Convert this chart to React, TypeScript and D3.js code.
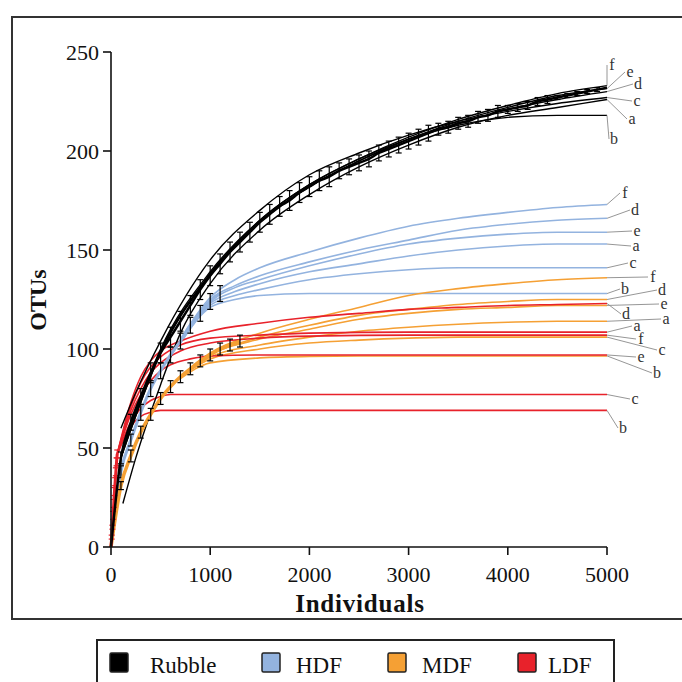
import React from 'react';
import * as d3 from 'd3';

const X_TICKS = [0, 1000, 2000, 3000, 4000, 5000];
const Y_TICKS = [0, 50, 100, 150, 200, 250];
const GROUPS = ['Rubble', 'HDF', 'MDF', 'LDF'];
const GROUP_COLORS = ['#000000', '#93b3df', '#f5a034', '#e8222b'];

// group mean rarefaction curves (y values at regular sample steps) and their SD
const RUBBLE_STEP = 100;
const RUBBLE_MEAN = [0, 45, 63, 76, 88, 98, 106, 114, 122, 130, 137, 143, 149, 154, 159, 164, 168, 172, 175, 179, 182, 185, 187, 190, 192, 194, 196, 199, 201, 203, 205, 207, 209, 211, 212, 214, 215, 217, 218, 220, 221, 222, 223, 225, 226, 227, 228, 229, 230, 231, 232];
const RUBBLE_SD = [0, 3, 4, 4, 5, 5, 5, 5, 5, 5, 5, 5, 5, 5, 5, 5, 5, 5, 5, 5, 5, 5, 5, 4, 4, 4, 4, 4, 4, 4, 4, 4, 4, 3, 3, 3, 3, 3, 3, 3, 2, 2, 2, 2, 2, 1, 1, 1, 1, 1, 0];
const HDF_STEP = 100;
const HDF_MEAN = [0, 38, 54, 68, 80, 89, 97, 104, 112, 118, 124, 128];
const HDF_SD = [0, 3, 3, 4, 4, 4, 4, 4, 4, 4, 4, 4];
const MDF_STEP = 100;
const MDF_MEAN = [0, 31, 46, 58, 67, 75, 81, 86, 90, 94, 97, 100, 102, 104];
const MDF_SD = [0, 2, 3, 3, 3, 3, 3, 3, 3, 3, 3, 3, 3, 3];
const LDF_STEP = 7;
const LDF_MEAN = [0, 5, 10, 16, 22, 28, 33, 38, 43, 47];
const LDF_SD = [0, 1, 1, 2, 2, 2, 2, 2, 2, 2];

type Pt = [number, number];
type Curve = { id: string; pts: Pt[] };

const RUBBLE_LINES: Curve[] = [
  { id: 'f', pts: [[100, 47], [500, 100], [1000, 139], [1500, 165], [2000, 183], [2500, 196], [3000, 207], [3500, 216], [4000, 223], [4500, 229], [5000, 233]] },
  { id: 'e', pts: [[100, 46], [500, 99], [1000, 138], [1500, 164], [2000, 182], [2500, 195], [3000, 206], [3500, 215], [4000, 222], [4500, 228], [5000, 231.5]] },
  { id: 'd', pts: [[100, 45], [500, 98], [1000, 137], [1500, 164], [2000, 182], [2500, 195], [3000, 206], [3500, 214], [4000, 221], [4500, 226], [5000, 230]] },
  { id: 'c', pts: [[100, 60], [250, 78], [500, 104], [1000, 145], [1500, 170], [2000, 188], [2500, 199], [3000, 208], [3500, 215], [4000, 220], [4500, 224], [5000, 227]] },
  { id: 'a', pts: [[120, 22], [250, 45], [500, 82], [700, 108], [1000, 133], [1500, 160], [2000, 178], [2500, 192], [3000, 203], [3500, 212], [4000, 218], [4500, 222], [5000, 226]] },
  { id: 'b', pts: [[100, 45], [500, 98], [1000, 138], [1500, 165], [2000, 183], [2500, 196], [3000, 206], [3500, 213], [4000, 217], [4500, 218], [5000, 218]] },
];

const HDF_LINES: Curve[] = [
  { id: 'f', pts: [[700, 105], [1000, 126], [1250, 135], [1500, 141], [2000, 149], [2500, 156], [3000, 162], [3500, 166], [4000, 169], [4500, 171.5], [5000, 173]] },
  { id: 'd', pts: [[700, 104], [1000, 125], [1250, 132], [1500, 137], [2000, 144], [2500, 150], [3000, 155], [3500, 160], [4000, 163], [4500, 165], [5000, 166]] },
  { id: 'e', pts: [[700, 104], [1000, 124], [1250, 131], [1500, 135], [2000, 142], [2500, 148], [3000, 153], [3500, 156], [4000, 158], [4500, 159], [5000, 159]] },
  { id: 'a', pts: [[700, 104], [1000, 123], [1250, 129], [1500, 133], [2000, 139], [2500, 143], [3000, 147], [3500, 150], [4000, 152], [4500, 153], [5000, 153]] },
  { id: 'c', pts: [[700, 103], [1000, 122], [1250, 127], [1500, 130], [2000, 135], [2500, 138], [3000, 140], [3500, 141], [4000, 141], [5000, 141]] },
  { id: 'b', pts: [[700, 103], [1000, 121], [1250, 125], [1500, 127], [2000, 128], [5000, 128]] },
];

const MDF_LINES: Curve[] = [
  { id: 'f', pts: [[700, 86], [1000, 98], [1500, 108], [2000, 115], [2500, 121], [3000, 127], [3500, 130.5], [4000, 133], [4500, 135], [5000, 136]] },
  { id: 'd', pts: [[700, 86], [1000, 97], [1500, 106], [2000, 112], [2500, 117], [3000, 120], [3500, 122.5], [4000, 124], [4500, 125], [5000, 125]] },
  { id: 'e', pts: [[700, 86], [1000, 97], [1500, 105], [2000, 110], [2500, 115], [3000, 118], [3500, 120], [4000, 121], [4500, 122], [5000, 122]] },
  { id: 'a', pts: [[700, 86], [1000, 96], [1500, 102], [2000, 106], [2500, 109], [3000, 111], [3500, 112.5], [4000, 113.5], [4500, 114], [5000, 114]] },
  { id: 'c', pts: [[700, 86], [1000, 95], [1500, 100], [2000, 103], [2500, 104.5], [3000, 105.5], [3500, 106], [5000, 106]] },
  { id: 'b', pts: [[700, 85], [1000, 93], [1500, 95.5], [2000, 96.3], [2500, 96.5], [5000, 96.5]] },
];

const LDF_LINES: Curve[] = [
  { id: 'd', pts: [[63, 47], [200, 73], [300, 86], [400, 94], [500, 99], [700, 104], [1000, 109], [1500, 113], [2000, 116], [2500, 118], [3000, 120], [3500, 121], [4000, 122], [4500, 122.5], [5000, 123]] },
  { id: 'a', pts: [[63, 47], [200, 71], [300, 83], [400, 91], [500, 96], [700, 102], [1000, 105.5], [1500, 107], [2000, 108], [3000, 108.5], [5000, 108.5]] },
  { id: 'f', pts: [[63, 47], [200, 69], [300, 80], [400, 88], [500, 93], [700, 99], [1000, 103], [1500, 105.5], [2000, 106.5], [3000, 107], [5000, 107]] },
  { id: 'e', pts: [[63, 47], [200, 67], [300, 77], [400, 84], [500, 89], [600, 92], [800, 95], [1000, 96.5], [1500, 97], [5000, 97]] },
  { id: 'c', pts: [[63, 47], [200, 63], [300, 70], [400, 74], [500, 76], [600, 77], [5000, 77]] },
  { id: 'b', pts: [[63, 47], [200, 61], [300, 66], [400, 68], [500, 69], [5000, 69]] },
];

// label placement (layout only): pixel centre of each end-label
const LABEL_LAYOUT: Record<string, [number, number]> = {
  'Rubble-f': [612, 64], 'Rubble-e': [630, 71], 'Rubble-d': [638, 83], 'Rubble-c': [637, 100], 'Rubble-a': [632, 118], 'Rubble-b': [614, 138],
  'HDF-f': [625, 192], 'HDF-d': [635, 209], 'HDF-e': [637, 230], 'HDF-a': [636, 245], 'HDF-c': [633, 262], 'HDF-b': [625, 288],
  'MDF-f': [653, 276], 'MDF-d': [662, 289], 'MDF-e': [664, 303], 'MDF-a': [666, 318], 'MDF-c': [662, 349], 'MDF-b': [657, 372],
  'LDF-d': [626, 313], 'LDF-a': [637, 325], 'LDF-f': [641, 338], 'LDF-e': [641, 356], 'LDF-c': [635, 398], 'LDF-b': [623, 427],
};

const FONT = '"Liberation Serif", "Times New Roman", serif';

export default function App() {
  const x = d3.scaleLinear().domain([0, 5000]).range([111, 607]);
  const y = d3.scaleLinear().domain([0, 250]).range([547, 52]);
  const line = d3.line<Pt>().x((d) => x(d[0])).y((d) => y(d[1])).curve(d3.curveMonotoneX);

  const groupsLines: [string, Curve[], string][] = [
    ['HDF', HDF_LINES, GROUP_COLORS[1]],
    ['MDF', MDF_LINES, GROUP_COLORS[2]],
    ['LDF', LDF_LINES, GROUP_COLORS[3]],
    ['Rubble', RUBBLE_LINES, GROUP_COLORS[0]],
  ];

  const means: { name: string; step: number; mean: number[]; sd: number[]; color: string; bar: string; w: number }[] = [
    { name: 'HDF', step: HDF_STEP, mean: HDF_MEAN, sd: HDF_SD, color: GROUP_COLORS[1], bar: '#000', w: 3 },
    { name: 'MDF', step: MDF_STEP, mean: MDF_MEAN, sd: MDF_SD, color: GROUP_COLORS[2], bar: '#000', w: 3.5 },
    { name: 'LDF', step: LDF_STEP, mean: LDF_MEAN, sd: LDF_SD, color: GROUP_COLORS[3], bar: GROUP_COLORS[3], w: 3 },
    { name: 'Rubble', step: RUBBLE_STEP, mean: RUBBLE_MEAN, sd: RUBBLE_SD, color: '#000', bar: '#000', w: 2.5 },
  ];

  const legendItems = [
    { sx: 110, tx: 150 },
    { sx: 262, tx: 296 },
    { sx: 388, tx: 422 },
    { sx: 518, tx: 548 },
  ];

  return (
    <svg width={682} height={682} style={{ position: 'absolute', left: 0, top: 0, background: '#fff' }} fontFamily={FONT}>
      <rect x={0} y={0} width={682} height={682} fill="#fff" />
      {/* outer frame (open at right) */}
      <path d="M 690 17 L 12 17 L 12 619 L 690 619" fill="none" stroke="#333" strokeWidth={2} />

      {/* individual curves */}
      {groupsLines.map(([g, curves, col]) =>
        curves.map((c) => (
          <path key={g + c.id} d={line(c.pts) || ''} fill="none" stroke={col} strokeWidth={g === 'Rubble' ? 1.4 : 1.6} />
        ))
      )}

      {/* means with error bars */}
      {means.map((m) => {
        const pts: Pt[] = m.mean.map((v, i) => [i * m.step, v]);
        return (
          <g key={m.name}>
            <path d={line(pts) || ''} fill="none" stroke={m.color} strokeWidth={m.w} />
            {pts.map((p, i) =>
              m.sd[i] > 0 ? (
                <g key={i} stroke={m.bar} strokeWidth={1.2}>
                  <line x1={x(p[0])} x2={x(p[0])} y1={y(p[1] - m.sd[i])} y2={y(p[1] + m.sd[i])} />
                  <line x1={x(p[0]) - 3} x2={x(p[0]) + 3} y1={y(p[1] - m.sd[i])} y2={y(p[1] - m.sd[i])} />
                  <line x1={x(p[0]) - 3} x2={x(p[0]) + 3} y1={y(p[1] + m.sd[i])} y2={y(p[1] + m.sd[i])} />
                </g>
              ) : null
            )}
          </g>
        );
      })}

      {/* end labels with leaders */}
      {groupsLines.map(([g, curves]) =>
        curves.map((c) => {
          const last = c.pts[c.pts.length - 1];
          const [lx, ly] = LABEL_LAYOUT[g + '-' + c.id];
          return (
            <g key={'lab' + g + c.id}>
              <line x1={x(last[0])} y1={y(last[1])} x2={lx - 5} y2={ly + 1} stroke="#8a8a8a" strokeWidth={0.9} />
              <text x={lx} y={ly} dy="0.35em" textAnchor="middle" fontSize={16} fill="#333">{c.id}</text>
            </g>
          );
        })
      )}

      {/* axes */}
      <line x1={x(0)} x2={x(0)} y1={y(250)} y2={y(0)} stroke="#111" strokeWidth={1.6} />
      <line x1={x(0)} x2={x(5000)} y1={y(0)} y2={y(0)} stroke="#111" strokeWidth={1.6} />
      {Y_TICKS.map((t) => (
        <g key={'y' + t}>
          <line x1={x(0) - 8} x2={x(0)} y1={y(t)} y2={y(t)} stroke="#111" strokeWidth={1.6} />
          <text x={x(0) - 12} y={y(t)} dy="0.35em" textAnchor="end" fontSize={22} fill="#111">{t}</text>
        </g>
      ))}
      {X_TICKS.map((t) => (
        <g key={'x' + t}>
          <line x1={x(t)} x2={x(t)} y1={y(0)} y2={y(0) + 8} stroke="#111" strokeWidth={1.6} />
          <text x={x(t)} y={y(0) + 35} textAnchor="middle" fontSize={22} fill="#111">{t}</text>
        </g>
      ))}
      <text x={360} y={612} textAnchor="middle" fontSize={25} fontWeight="bold" letterSpacing={0.8} fill="#111">Individuals</text>
      <text transform="translate(46,300) rotate(-90)" textAnchor="middle" fontSize={24} fontWeight="bold" fill="#111">OTUs</text>

      {/* legend */}
      <rect x={97} y={640} width={517} height={60} fill="#fff" stroke="#222" strokeWidth={2} />
      {GROUPS.map((g, i) => (
        <g key={g}>
          <rect x={legendItems[i].sx} y={653} width={18} height={19} fill={GROUP_COLORS[i]} stroke="#222" strokeWidth={1.5} rx={1.5} />
          <text x={legendItems[i].tx} y={673} fontSize={23} fill="#111">{g}</text>
        </g>
      ))}
    </svg>
  );
}
